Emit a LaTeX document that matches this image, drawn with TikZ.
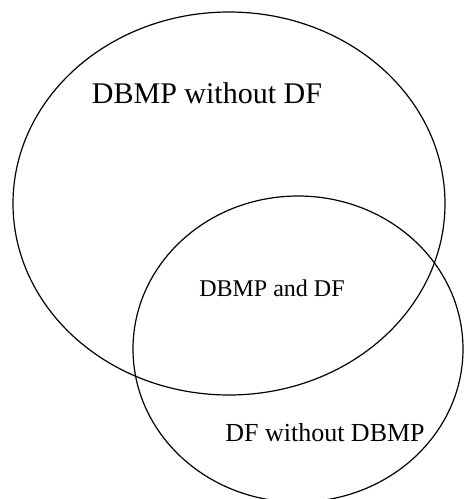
\documentclass[tikz,border=0pt]{standalone}
\usepackage{fontspec}
\setmainfont{Liberation Serif}
\usepackage{tikz}
\usetikzlibrary{positioning}
\tikzset{
    setline/.style={line width=1.2pt, color=black},
    biglabel/.style={font=\fontsize{30}{36}\selectfont, inner sep=0pt},
    smalllabel/.style={font=\fontsize{24}{29}\selectfont, inner sep=0pt},
    midlabel/.style={font=\fontsize{26}{31}\selectfont, inner sep=0pt},
}

\begin{document}
\begin{tikzpicture}[x=1pt,y=1pt,yscale=-1,xscale=1]
\useasboundingbox (0,0) rectangle (464,499);
%Ellipse
\draw [setline] (229,203.5) ellipse [x radius=216, y radius=191.5];
%Ellipse
\draw [setline] (298,349) ellipse [x radius=165, y radius=153];
\node [biglabel] (dbmponly) at (207,93) {DBMP without DF};
\node [smalllabel] (both) at (272,288) {DBMP and DF};
\node [midlabel] (dfonly) at (325,433) {DF without DBMP};
\end{tikzpicture}
\end{document}
